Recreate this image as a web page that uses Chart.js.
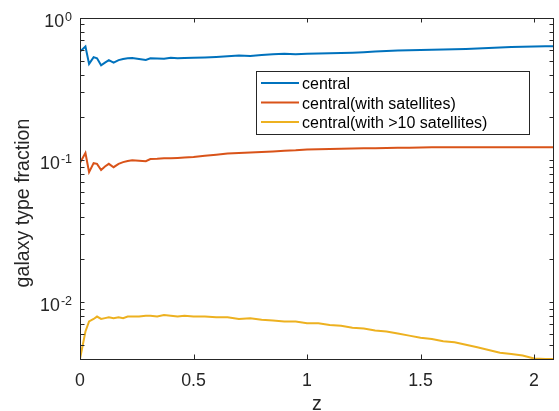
<!DOCTYPE html>
<html>
<head>
<meta charset="utf-8">
<script src="https://cdn.jsdelivr.net/npm/chart.js@4/dist/chart.umd.min.js"></script>
<style>
  body { margin: 0; background: #fff; }
  #wrap { width: 559px; height: 411px; }
</style>
</head>
<body>
<div id="wrap"><canvas id="fraction-chart"></canvas></div>
<script>
// redshift samples
const redshift = [0, 0.024, 0.04, 0.06, 0.075, 0.093, 0.11, 0.127, 0.148, 0.17,
  0.19, 0.21, 0.23, 0.26, 0.29, 0.31, 0.34, 0.37, 0.40, 0.43,
  0.46, 0.50, 0.55, 0.60, 0.65, 0.70, 0.75, 0.80, 0.85, 0.90,
  0.95, 1.00, 1.05, 1.10, 1.15, 1.20, 1.25, 1.30, 1.35, 1.40,
  1.45, 1.50, 1.55, 1.60, 1.65, 1.70, 1.75, 1.80, 1.85, 1.90,
  1.95, 2.00, 2.05, 2.088];

const central = [0.58, 0.63, 0.475, 0.53, 0.52, 0.465, 0.485, 0.505, 0.485, 0.505,
  0.515, 0.521, 0.523, 0.515, 0.507, 0.52, 0.518, 0.516, 0.525, 0.52,
  0.522, 0.524, 0.528, 0.532, 0.538, 0.544, 0.54, 0.548, 0.556, 0.56,
  0.556, 0.56, 0.562, 0.565, 0.567, 0.57, 0.575, 0.58, 0.585, 0.59,
  0.593, 0.596, 0.598, 0.6, 0.602, 0.606, 0.61, 0.615, 0.62, 0.624,
  0.627, 0.63, 0.632, 0.633];

const centralSat = [0.0955, 0.112, 0.082, 0.095, 0.094, 0.085, 0.09, 0.094, 0.089, 0.094,
  0.0966, 0.0985, 0.0997, 0.099, 0.098, 0.1015, 0.102, 0.103, 0.103, 0.1035,
  0.104, 0.105, 0.107, 0.109, 0.111, 0.112, 0.113, 0.114, 0.115, 0.116,
  0.117, 0.1185, 0.119, 0.1195, 0.12, 0.1205, 0.121, 0.1212, 0.1215, 0.122,
  0.1222, 0.1225, 0.1228, 0.123, 0.123, 0.1232, 0.1232, 0.1232, 0.123, 0.123,
  0.123, 0.1228, 0.1228, 0.1228];

const centralSat10 = [0.00397, 0.0062, 0.0073, 0.0076, 0.0079, 0.0076, 0.0077, 0.0078, 0.0077, 0.0078,
  0.0077, 0.0079, 0.0079, 0.0079, 0.008, 0.008, 0.0079, 0.0081, 0.008, 0.0079,
  0.008, 0.0079, 0.0079, 0.0078, 0.0078, 0.0076, 0.0077, 0.0075, 0.0074, 0.0073,
  0.0073, 0.0071, 0.0071, 0.0069, 0.0068, 0.0066, 0.0065, 0.0063, 0.0062, 0.006,
  0.0058, 0.0056, 0.0055, 0.0053, 0.0052, 0.005, 0.0048, 0.0046, 0.0044, 0.0043,
  0.0042, 0.004, 0.00397, 0.00397];

const seriesNames = ['central', 'central(with satellites)', 'central(with >10 satellites)'];
const seriesColors = ['#0072BD', '#D95319', '#EDB120'];
const xTicks = [0, 0.5, 1, 1.5, 2];
const xTickLabels = ['0', '0.5', '1', '1.5', '2'];
const yExponents = [0, -1, -2];

const axisColor = '#262626';
const fontName = '"Liberation Sans", Arial, Helvetica, sans-serif';

function pts(ys) {
    return redshift.map((z, i) => ({ x: z, y: ys[i] }));
}

// MATLAB-like box, inward ticks, labels and legend
const matlabAxes = {
    id: 'matlabAxes',
    afterDraw(chart) {
        const ctx = chart.ctx;
        const a = chart.chartArea;
        const xs = chart.scales.x;
        const ys = chart.scales.y;
        const tl = 4.5;
        ctx.save();
        ctx.strokeStyle = axisColor;
        ctx.lineWidth = 1;
        ctx.beginPath();
        xTicks.forEach(v => {
            const px = Math.round(xs.getPixelForValue(v)) + 0.5;
            ctx.moveTo(px, a.bottom); ctx.lineTo(px, a.bottom - tl);
            ctx.moveTo(px, a.top); ctx.lineTo(px, a.top + tl);
        });
        for (let d = -3; d <= 0; d++) {
            for (let m = 1; m <= 9; m++) {
                const v = m * Math.pow(10, d);
                if (v < ys.min || v > ys.max) continue;
                const py = Math.round(ys.getPixelForValue(v)) + 0.5;
                ctx.moveTo(a.left, py); ctx.lineTo(a.left + tl, py);
                ctx.moveTo(a.right, py); ctx.lineTo(a.right - tl, py);
            }
        }
        ctx.stroke();
        ctx.strokeRect(a.left + 0.5, a.top + 0.5, a.right - a.left - 1, a.bottom - a.top);

        // tick labels
        ctx.fillStyle = axisColor;
        ctx.textBaseline = 'alphabetic';
        ctx.font = '17.8px ' + fontName;
        ctx.textAlign = 'center';
        xTicks.forEach((v, i) => {
            ctx.fillText(xTickLabels[i], xs.getPixelForValue(v), 385.5);
        });
        yExponents.forEach(e => {
            const py = ys.getPixelForValue(Math.pow(10, e));
            const expText = e === 0 ? '0' : '-' + (-e);
            ctx.textAlign = 'right';
            ctx.font = '12.5px ' + fontName;
            const ew = ctx.measureText(expText).width;
            ctx.fillText(expText, 72, py + 3.4);
            ctx.font = '17.8px ' + fontName;
            ctx.fillText('10', 72 - ew - 1, py + 9);
        });

        // axis titles
        ctx.font = '19.6px ' + fontName;
        ctx.textAlign = 'center';
        ctx.fillText('z', (a.left + a.right) / 2, 410);
        ctx.save();
        ctx.translate(29, 203);
        ctx.rotate(-Math.PI / 2);
        ctx.fillText('galaxy type fraction', 0, 0);
        ctx.restore();

        // legend
        ctx.fillStyle = '#fff';
        ctx.fillRect(256.5, 71.5, 273, 63);
        ctx.strokeStyle = axisColor;
        ctx.strokeRect(256.5, 71.5, 273, 63);
        ctx.font = '16px ' + fontName;
        ctx.textAlign = 'left';
        const rows = [83, 102.5, 122];
        seriesNames.forEach((name, i) => {
            ctx.strokeStyle = seriesColors[i];
            ctx.lineWidth = 2;
            ctx.beginPath();
            ctx.moveTo(261, rows[i]); ctx.lineTo(299, rows[i]);
            ctx.stroke();
            ctx.fillStyle = '#000';
            ctx.fillText(name, 302, rows[i] + 6);
        });
        ctx.restore();
    }
};

const chartCtx = document.getElementById('fraction-chart').getContext('2d');
new Chart(chartCtx, {
    type: 'line',
    data: {
        datasets: [
            { label: seriesNames[0], data: pts(central), borderColor: seriesColors[0] },
            { label: seriesNames[1], data: pts(centralSat), borderColor: seriesColors[1] },
            { label: seriesNames[2], data: pts(centralSat10), borderColor: seriesColors[2] }
        ]
    },
    options: {
        responsive: true,
        maintainAspectRatio: false,
        animation: false,
        layout: { padding: { top: 18, right: 5, left: 0, bottom: 0 } },
        elements: {
            line: { borderWidth: 2, tension: 0, fill: false },
            point: { radius: 0 }
        },
        plugins: {
            legend: { display: false },
            tooltip: { enabled: false }
        },
        scales: {
            x: {
                type: 'linear',
                min: 0,
                max: 2.088,
                grid: { display: false },
                border: { display: false },
                ticks: { display: false },
                afterFit: s => { s.height = 52; }
            },
            y: {
                type: 'logarithmic',
                min: 0.00397,
                max: 1,
                grid: { display: false },
                border: { display: false },
                ticks: { display: false },
                afterFit: s => { s.width = 80; }
            }
        }
    },
    plugins: [matlabAxes]
});
</script>
</body>
</html>
